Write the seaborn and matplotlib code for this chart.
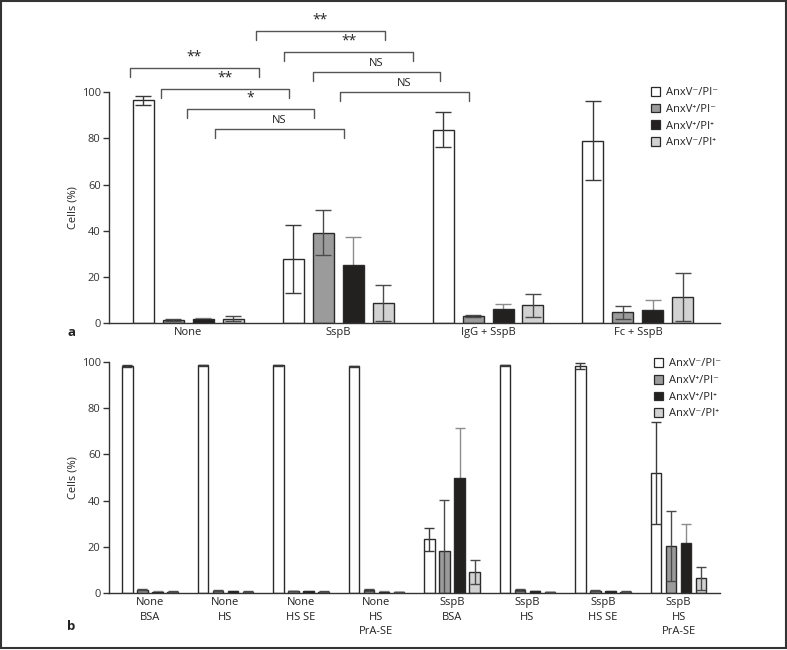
import numpy as np
import pandas as pd
import seaborn as sns
import matplotlib.pyplot as plt
from matplotlib.patches import Rectangle

# estados de las celulas (leyenda)
states = ['AnxV\u207b/PI\u207b', 'AnxV\u207a/PI\u207b', 'AnxV\u207a/PI\u207a', 'AnxV\u207b/PI\u207a']
colors = ['#ffffff', '#9b9b9b', '#231f20', '#d2d2d2']
err_colors = ['#3a3a3a', '#4a4a4a', '#8c8c8c', '#4a4a4a']

# panel a
groups_a = ['None', 'SspB', 'IgG + SspB', 'Fc + SspB']
vals_a = [
    [96.4, 27.8, 83.7, 78.9],
    [1.4, 39.2, 3.2, 4.8],
    [1.9, 25.1, 6.2, 5.9],
    [1.9, 8.7, 7.8, 11.3],
]
errs_a = [
    [2.0, 14.6, 7.6, 17.0],
    [0.3, 9.7, 0.5, 2.8],
    [0.3, 12.4, 2.0, 4.0],
    [1.1, 7.7, 5.0, 10.5],
]

# panel b
groups_b = ['None\nBSA', 'None\nHS', 'None\nHS SE', 'None\nHS\nPrA-SE',
            'SspB\nBSA', 'SspB\nHS', 'SspB\nHS SE', 'SspB\nHS\nPrA-SE']
vals_b = [
    [98.2, 98.5, 98.5, 98.2, 23.2, 98.5, 98.3, 52.0],
    [1.5, 1.0, 0.8, 1.2, 18.2, 1.3, 0.9, 20.3],
    [0.6, 0.7, 0.8, 0.6, 49.9, 0.8, 0.8, 21.5],
    [0.6, 0.6, 0.6, 0.4, 9.1, 0.5, 0.6, 6.4],
]
errs_b = [
    [0.3, 0.2, 0.2, 0.2, 5.0, 0.2, 1.2, 22.0],
    [0.2, 0.3, 0.1, 0.5, 22.0, 0.3, 0.2, 15.0],
    [0.1, 0.1, 0.2, 0.1, 21.7, 0.1, 0.2, 8.4],
    [0.1, 0.1, 0.1, 0.1, 5.0, 0.1, 0.1, 5.0],
]

# corchetes de significancia: (x1, x2, y, texto)
brackets = [
    (-0.39, 0.47, 110.5, '**'),
    (-0.18, 0.67, 101.4, '**'),
    (-0.01, 0.84, 92.8, '*'),
    (0.18, 1.04, 84.1, 'NS'),
    (0.45, 1.31, 126.5, '**'),
    (0.64, 1.50, 117.4, '**'),
    (0.83, 1.68, 108.7, 'NS'),
    (1.01, 1.87, 100.0, 'NS'),
]

sns.set_style('white')
plt.rcParams['font.family'] = ['Open Sans', 'DejaVu Sans']
plt.rcParams['font.size'] = 8
plt.rcParams['axes.edgecolor'] = '#333333'
plt.rcParams['xtick.color'] = '#222222'
plt.rcParams['ytick.color'] = '#333333'
plt.rcParams['text.color'] = '#222222'
plt.rcParams['axes.labelcolor'] = '#222222'


def make_df(groups, vals):
    rows = []
    for i, st in enumerate(states):
        for j, g in enumerate(groups):
            rows.append({'group': g, 'state': st, 'value': vals[i][j]})
    return pd.DataFrame(rows)


def draw_panel(ax, groups, vals, errs, xlim, cap):
    df = make_df(groups, vals)
    sns.barplot(data=df, x='group', y='value', hue='state', order=groups,
                hue_order=states, palette=colors, edgecolor='#2a2a2a',
                linewidth=1.0, width=0.8, gap=0.3, errorbar=None, ax=ax)
    bar_conts = list(ax.containers)
    for i, cont in enumerate(bar_conts):
        xs = [b.get_x() + b.get_width() / 2 for b in cont]
        hs = [b.get_height() for b in cont]
        # la barra negra tapa la parte inferior del error
        z = 0.5 if i == 2 else 5
        ax.errorbar(xs, hs, yerr=errs[i], fmt='none', ecolor=err_colors[i],
                    elinewidth=1.0, capsize=cap, capthick=1.0, zorder=z)
    ax.set_ylim(0, 100)
    ax.set_xlim(*xlim)
    ax.set_yticks([0, 20, 40, 60, 80, 100])
    ax.set_xlabel('')
    ax.set_ylabel('Cells (%)', labelpad=2)
    ax.tick_params(axis='y', direction='out', length=4, width=1, pad=2, left=True)
    ax.tick_params(axis='x', length=0, pad=3)
    sns.despine(ax=ax, top=True, right=True)
    ax.spines['left'].set_linewidth(1.0)
    ax.spines['bottom'].set_linewidth(1.0)
    leg = ax.legend(loc='upper left', bbox_to_anchor=(0.88, 1.02), frameon=False,
                    handlelength=0.8, handleheight=0.8, handletextpad=0.5,
                    labelspacing=0.5, fontsize=8, borderaxespad=0)
    for h in leg.legend_handles:
        h.set_edgecolor('#2a2a2a')
        h.set_linewidth(0.9)


fig = plt.figure(figsize=(7.87, 6.5), dpi=100)
ax1 = fig.add_axes([0.1385, 0.5026, 0.7764, 0.3559])
ax2 = fig.add_axes([0.1385, 0.0877, 0.7764, 0.3554])

draw_panel(ax1, groups_a, vals_a, errs_a, (-0.527, 3.547), 5.5)
draw_panel(ax2, groups_b, vals_b, errs_b, (-0.543, 7.55), 3.3)
ax1.get_legend().set_bbox_to_anchor((0.88, 1.04))
ax2.get_legend().set_bbox_to_anchor((0.885, 1.035))

for t in ax2.get_xticklabels():
    t.set_linespacing(1.45)
    t.set_verticalalignment('top')

for x1, x2, y, txt in brackets:
    ax1.plot([x1, x1, x2, x2], [y - 3.9, y, y, y - 3.9], color='#555555',
             lw=1.0, clip_on=False)
    ax1.text((x1 + x2) / 2, y + 1.2, txt, ha='center', va='bottom',
             fontsize=10 if '*' in txt else 8, clip_on=False)

fig.text(67 / 787, 1 - 332 / 650, 'a', fontsize=9.5, fontweight='bold', ha='left', va='center')
fig.text(67 / 787, 1 - 627 / 650, 'b', fontsize=9.5, fontweight='bold', ha='left', va='center')

fig.patches.append(Rectangle((0.001, 0.003), 0.998, 0.995, transform=fig.transFigure,
                             fill=False, edgecolor='#333333', lw=1.5))

fig.savefig('out.png', dpi=100)
